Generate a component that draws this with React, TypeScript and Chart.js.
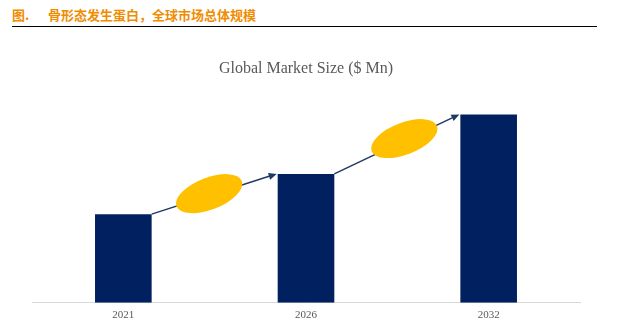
import React, { useEffect, useRef } from "react";
import { Chart, registerables } from "chart.js";

Chart.register(...registerables);

const categories = ["2021", "2026", "2032"];
const marketSize = [425, 618, 903];
const yMax = 1000;
const chartTitle = "Global Market Size ($ Mn)";
const figLabel = "图.";
const figTitle = "骨形态发生蛋白，全球市场总体规模";

const BAR_COLOR = "#002060";
const ARROW_COLOR = "#1F3864";
const ELLIPSE_COLOR = "#FFC000";
const ELLIPSE_POS = [0.46, 0.56];

const arrowPlugin = {
  id: "growthArrows",
  afterDatasetsDraw(chart: any) {
    const meta = chart.getDatasetMeta(0);
    const els = meta.data;
    const ctx = chart.ctx;
    for (let i = 0; i < els.length - 1; i++) {
      const a = els[i];
      const b = els[i + 1];
      const x1 = a.x + a.width / 2;
      const y1 = a.y;
      const x2 = b.x - b.width / 2 - 1;
      const y2 = b.y;
      const ang = Math.atan2(y2 - y1, x2 - x1);
      ctx.save();
      ctx.strokeStyle = ARROW_COLOR;
      ctx.fillStyle = ARROW_COLOR;
      ctx.lineWidth = 1.5;
      const hl = 8;
      const hw = 3.5;
      const bx = x2 - hl * Math.cos(ang);
      const by = y2 - hl * Math.sin(ang);
      ctx.beginPath();
      ctx.moveTo(x1, y1);
      ctx.lineTo(bx, by);
      ctx.stroke();
      ctx.beginPath();
      ctx.moveTo(x2, y2);
      ctx.lineTo(bx + hw * Math.sin(ang), by - hw * Math.cos(ang));
      ctx.lineTo(bx - hw * Math.sin(ang), by + hw * Math.cos(ang));
      ctx.closePath();
      ctx.fill();
      const t = ELLIPSE_POS[i] ?? 0.5;
      const cx = x1 + (x2 - x1) * t;
      const cy = y1 + (y2 - y1) * t - 2;
      ctx.beginPath();
      ctx.fillStyle = ELLIPSE_COLOR;
      ctx.ellipse(cx, cy, 35, 16, (-21 * Math.PI) / 180, 0, Math.PI * 2);
      ctx.fill();
      ctx.restore();
    }
  },
};

export default function App() {
  const ref = useRef<HTMLCanvasElement>(null);
  useEffect(() => {
    if (!ref.current) return;
    const chart = new Chart(ref.current, {
      type: "bar",
      data: {
        labels: categories,
        datasets: [
          {
            data: marketSize,
            backgroundColor: BAR_COLOR,
            borderWidth: 0,
            barPercentage: 0.31,
            categoryPercentage: 1,
          },
        ],
      },
      options: {
        responsive: false,
        animation: false,
        layout: { padding: { left: 32, right: 41, top: 40, bottom: 3 } },
        plugins: {
          legend: { display: false },
          tooltip: { enabled: false },
          title: {
            display: true,
            text: chartTitle,
            color: "#595959",
            font: { family: "'Liberation Serif', 'Times New Roman', serif", size: 16, weight: "normal" },
            padding: { top: 19, bottom: 16 },
          },
        },
        scales: {
          x: {
            grid: { display: false, drawTicks: false },
            border: { display: true, color: "#D9D9D9", width: 1 },
            ticks: {
              color: "#595959",
              padding: 6,
              font: { family: "'Liberation Serif', 'Times New Roman', serif", size: 11 },
            },
          },
          y: {
            display: false,
            min: 0,
            max: yMax,
          },
        },
      },
      plugins: [arrowPlugin],
    });
    return () => chart.destroy();
  }, []);

  return (
    <div style={{ position: "fixed", left: 0, top: 0, width: 621, height: 331, background: "#fff" }}>
      <div
        style={{
          position: "absolute",
          left: 12,
          top: 6,
          fontFamily: "'Noto Sans CJK SC', sans-serif",
          fontWeight: "bold",
          fontSize: 13,
          lineHeight: "17px",
          color: "#F08C00",
          whiteSpace: "nowrap",
        }}
      >
        <span style={{ display: "inline-block", width: 36 }}>{figLabel}</span>
        <span>{figTitle}</span>
      </div>
      <div
        style={{
          position: "absolute",
          left: 12,
          top: 26,
          width: 585,
          height: 0,
          borderTop: "1.5px solid #000",
        }}
      />
      <canvas ref={ref} width={621} height={331} style={{ position: "absolute", left: 0, top: 0 }} />
    </div>
  );
}
